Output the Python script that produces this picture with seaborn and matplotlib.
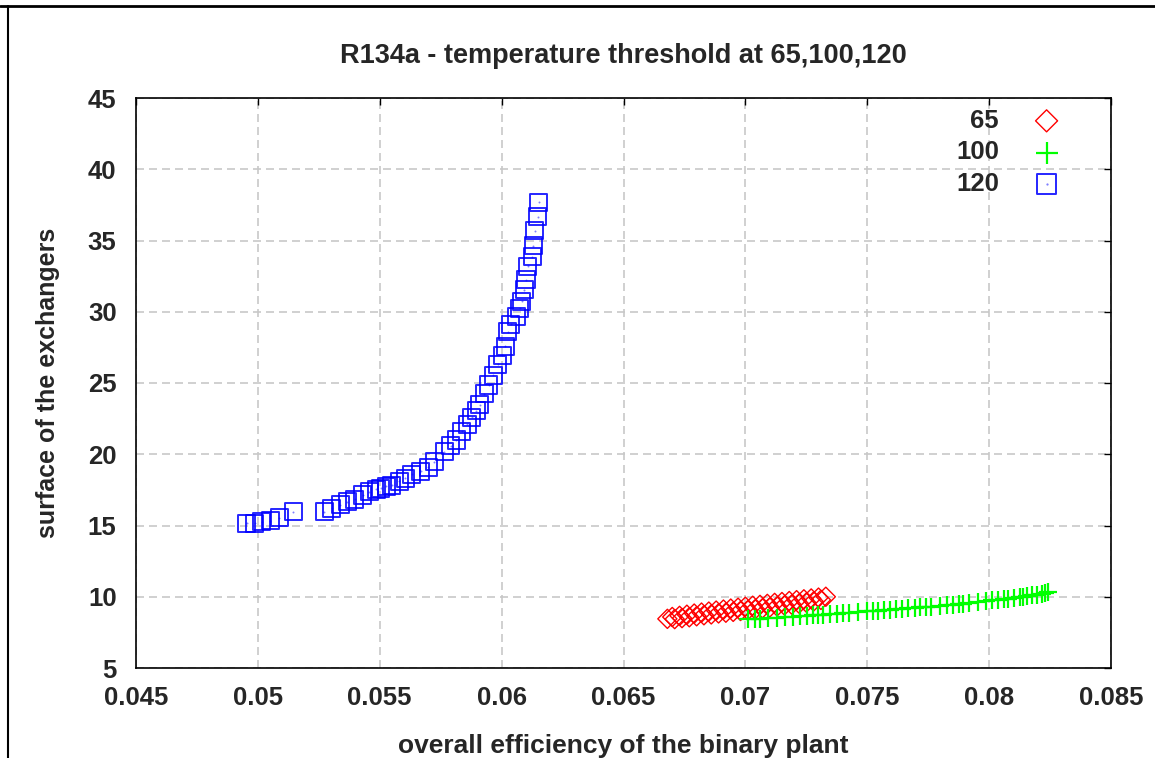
import matplotlib
matplotlib.use("Agg")
import matplotlib.pyplot as plt
import seaborn as sns
from matplotlib.lines import Line2D

# data
x_65 = [0.0668, 0.0670, 0.0671, 0.0673, 0.0674, 0.0676, 0.0677, 0.0679, 0.0680, 0.0682,
        0.0683, 0.0685, 0.0686, 0.0688, 0.0689, 0.0691, 0.0692, 0.0694, 0.0695, 0.0697,
        0.0698, 0.0700, 0.0701, 0.0703, 0.0704, 0.0706, 0.0707, 0.0709, 0.0710, 0.0712,
        0.0713, 0.0715, 0.0716, 0.0718, 0.0719, 0.0721, 0.0722, 0.0724, 0.0725, 0.0727,
        0.0728, 0.0730, 0.0731, 0.0733]
y_65 = [8.45, 8.58, 8.43, 8.66, 8.50, 8.74, 8.56, 8.82, 8.63, 8.89,
        8.70, 8.96, 8.76, 9.03, 8.83, 9.10, 8.88, 9.17, 8.94, 9.23,
        9.00, 9.30, 9.06, 9.37, 9.12, 9.43, 9.19, 9.50, 9.25, 9.57,
        9.32, 9.63, 9.39, 9.70, 9.45, 9.76, 9.52, 9.82, 9.59, 9.88,
        9.67, 9.94, 9.78, 10.00]

x_100 = [0.07012, 0.07039, 0.07060, 0.07094, 0.07129, 0.07163, 0.07197, 0.07224, 0.07252, 0.07279,
         0.07299, 0.07320, 0.07347, 0.07375, 0.07399, 0.07426, 0.07463, 0.07498, 0.07522, 0.07545,
         0.07570, 0.07593, 0.07618, 0.07644, 0.07668, 0.07696, 0.07716, 0.07741, 0.07762, 0.07798,
         0.07828, 0.07851, 0.07878, 0.07894, 0.07919, 0.07956, 0.07986, 0.08011, 0.08038, 0.08061,
         0.08079, 0.08102, 0.08127, 0.08140, 0.08154, 0.08175, 0.08195, 0.08216, 0.08229, 0.08243]
y_100 = [8.42, 8.45, 8.47, 8.51, 8.54, 8.58, 8.61, 8.64, 8.67, 8.70,
         8.72, 8.74, 8.78, 8.81, 8.84, 8.87, 8.92, 8.97, 9.00, 9.03,
         9.06, 9.09, 9.12, 9.15, 9.18, 9.22, 9.25, 9.28, 9.31, 9.36,
         9.40, 9.44, 9.48, 9.51, 9.55, 9.62, 9.68, 9.74, 9.78, 9.83,
         9.86, 9.91, 9.97, 10.01, 10.04, 10.09, 10.14, 10.20, 10.25, 10.33]

x_120 = [0.04954, 0.04988, 0.05016, 0.05050, 0.05088, 0.05145, 0.05273, 0.05303, 0.05337, 0.05367,
         0.05398, 0.05430, 0.05457, 0.05485, 0.05505, 0.05526, 0.05550, 0.05579, 0.05604, 0.05632,
         0.05669, 0.05698, 0.05723, 0.05764, 0.05792, 0.05813, 0.05837, 0.05858, 0.05878, 0.05895,
         0.05911, 0.05929, 0.05947, 0.05965, 0.05985, 0.06002, 0.06014, 0.06026, 0.06038, 0.06063,
         0.06075, 0.06082, 0.06092, 0.06100, 0.06107, 0.06125, 0.06130, 0.06136, 0.06148, 0.06153]
y_120 = [15.15, 15.15, 15.27, 15.34, 15.55, 15.97, 15.97, 16.20, 16.44, 16.67,
         16.84, 17.14, 17.37, 17.54, 17.63, 17.77, 17.84, 18.12, 18.33, 18.60,
         18.82, 19.10, 19.46, 20.16, 20.58, 21.00, 21.60, 22.10, 22.60, 23.04,
         23.46, 24.25, 24.86, 25.56, 26.33, 26.96, 27.58, 28.58, 29.12, 29.70,
         30.26, 30.75, 31.53, 32.23, 33.21, 33.86, 34.63, 35.69, 36.65, 37.70]

x_ticks = [0.045, 0.05, 0.055, 0.06, 0.065, 0.07, 0.075, 0.08, 0.085]
x_tick_labels = ["0.045", "0.05", "0.055", "0.06", "0.065", "0.07", "0.075", "0.08", "0.085"]
y_ticks = [5, 10, 15, 20, 25, 30, 35, 40, 45]

sns.set_style("white")
plt.rcParams["font.family"] = ["Liberation Sans", "DejaVu Sans"]
plt.rcParams["font.weight"] = "bold"

fig = plt.figure(figsize=(11.55, 7.58), dpi=100)
ax = fig.add_axes([136 / 1155, 1 - 668 / 758, 975 / 1155, 570 / 758])

sns.scatterplot(x=x_65, y=y_65, ax=ax, marker="D", s=95, facecolor="none",
                edgecolor="#ff0000", linewidth=1.0, label="65", zorder=3)
sns.scatterplot(x=x_100, y=y_100, ax=ax, marker="+", s=180, color="#00ff00",
                linewidth=1.6, label="100", zorder=4)
sns.scatterplot(x=x_120, y=y_120, ax=ax, marker="s", s=150, facecolor="none",
                edgecolor="#0000ff", linewidth=1.4, alpha=0.85, label="120", zorder=5)
# small dot in the centre of each square
sns.scatterplot(x=x_120, y=y_120, ax=ax, marker=".", s=8, color="#0000ff",
                linewidth=0, alpha=0.5, zorder=5)

ax.set_xlim(0.045, 0.085)
ax.set_ylim(5, 45)
ax.set_xticks(x_ticks)
ax.set_xticklabels(x_tick_labels)
ax.set_yticks(y_ticks)
ax.grid(True, color="#c8c8c8", linestyle=(0, (4.8, 3.0)), linewidth=1.2)
ax.set_axisbelow(True)
for sp in ax.spines.values():
    sp.set_color("black")
    sp.set_linewidth(1.2)

ax.tick_params(axis="both", direction="in", length=5, width=1, color="black",
               top=True, right=True, labelsize=18.5)
ax.tick_params(axis="x", pad=13)
ax.tick_params(axis="y", pad=14)
for lab in ax.get_xticklabels() + ax.get_yticklabels():
    lab.set_fontweight("bold")

ax.set_title("R134a - temperature threshold at 65,100,120", fontsize=19.5,
             fontweight="bold", pad=25)
ax.set_xlabel("overall efficiency of the binary plant", fontsize=19,
              fontweight="bold", labelpad=17)
ax.set_ylabel("surface of the exchangers", fontsize=18, fontweight="bold",
              labelpad=20)

handles, labels = ax.get_legend_handles_labels()
handles[2] = (handles[2], ax.collections[3])
ax.legend(handles, labels, loc="upper right", bbox_to_anchor=(0.984, 1.022),
          markerfirst=False, frameon=False, handletextpad=0.85,
          labelspacing=0.3, markerscale=1.15,
          prop={"size": 18.5, "weight": "bold"})

# outer frame lines of the original picture
fig.add_artist(Line2D([0.0, 1.0], [1 - 6 / 758, 1 - 6 / 758], color="black",
                      linewidth=2, transform=fig.transFigure))
fig.add_artist(Line2D([8 / 1155, 8 / 1155], [0.0, 1 - 6 / 758], color="black",
                      linewidth=1.5, transform=fig.transFigure))

fig.savefig("out.png", dpi=100)
